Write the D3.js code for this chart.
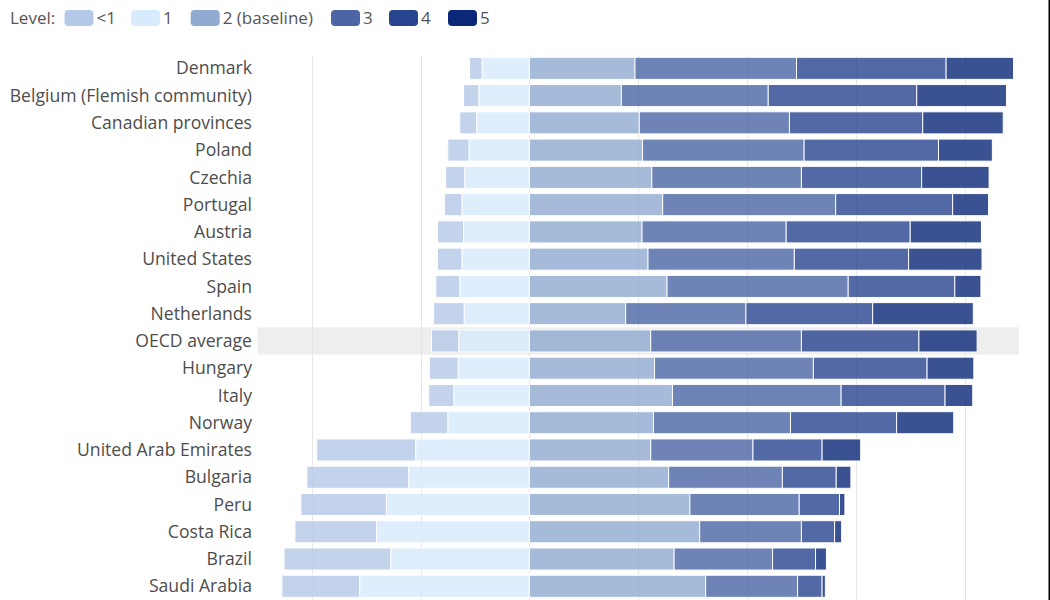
<!DOCTYPE html>
<html>
<head>
<meta charset="utf-8">
<script src="https://cdn.jsdelivr.net/npm/d3@7"></script>
<style>
  html, body { margin: 0; padding: 0; background: #fff; }
  svg { display: block; font-family: "Open Sans", "Noto Sans", sans-serif; }
</style>
</head>
<body>
<svg id="chart" width="1050" height="600"></svg>
<script>
const countries = ["Denmark", "Belgium (Flemish community)", "Canadian provinces", "Poland", "Czechia", "Portugal", "Austria", "United States", "Spain", "Netherlands", "OECD average", "Hungary", "Italy", "Norway", "United Arab Emirates", "Bulgaria", "Peru", "Costa Rica", "Brazil", "Saudi Arabia"];
const levelBelow1 = [2.3, 2.8, 3.1, 3.9, 3.5, 3.2, 4.8, 4.5, 4.4, 5.6, 5.0, 5.3, 4.6, 6.9, 18.2, 18.7, 15.7, 15.0, 19.6, 14.3];
const level1      = [8.7, 9.3, 9.7, 11.1, 11.9, 12.4, 12.1, 12.4, 12.8, 12.0, 13.0, 13.1, 13.9, 15.0, 20.9, 22.2, 26.3, 28.1, 25.5, 31.2];
const level2      = [19.4, 16.9, 20.2, 20.8, 22.5, 24.5, 20.7, 21.8, 25.3, 17.7, 22.3, 23.0, 26.3, 22.8, 22.3, 25.6, 29.5, 31.3, 26.6, 32.4];
const level3      = [29.7, 27.0, 27.6, 29.7, 27.5, 31.8, 26.5, 26.9, 33.3, 22.1, 27.7, 29.2, 31.0, 25.2, 18.8, 20.9, 20.1, 18.7, 18.1, 16.9];
const level4      = [27.5, 27.3, 24.5, 24.7, 22.1, 21.5, 22.8, 21.0, 19.6, 23.3, 21.6, 20.9, 19.1, 19.5, 12.7, 9.9, 7.4, 6.1, 7.9, 4.5];
const level5      = [12.4, 16.5, 14.8, 9.9, 12.4, 6.6, 13.1, 13.5, 4.8, 18.5, 10.7, 8.6, 5.1, 10.5, 7.1, 2.7, 1.0, 1.3, 2.0, 0.6];
const legendLabels = ["<1", "1", "2 (baseline)", "3", "4", "5"];
const gridTicks = [-40, -20, 0, 20, 40, 60, 80];
const highlighted = "OECD average";

const colors = ["#b4c9e7", "#d7ebfc", "#91aad2", "#4b65a5", "#27448f", "#0b2878"];

const svg = d3.select("#chart");

const x = d3.scaleLinear().domain([-50, 90]).range([257.4, 1019]);
const y = d3.scaleBand().domain(countries).range([54.7, 599.9]).paddingInner(0.19).paddingOuter(0.095);

// highlight band
svg.append("rect")
  .attr("x", x(-50)).attr("width", x(90) - x(-50))
  .attr("y", y(highlighted) - y.step() * 0.095).attr("height", y.step())
  .attr("fill", "#eeeeee");

// gridlines
svg.append("g").selectAll("line").data(gridTicks).join("line")
  .attr("x1", d => Math.round(x(d)) + 0.5).attr("x2", d => Math.round(x(d)) + 0.5)
  .attr("y1", 56).attr("y2", 600)
  .attr("stroke", "#e6e6e6").attr("stroke-width", 1);

// build segments
const segs = [];
countries.forEach((c, i) => {
  segs.push({c, lvl: 1, a: -level1[i], b: 0});
  segs.push({c, lvl: 0, a: -level1[i] - levelBelow1[i], b: -level1[i]});
  const right = [level2[i], level3[i], level4[i], level5[i]];
  let acc = 0;
  right.forEach((v, k) => {
    segs.push({c, lvl: k + 2, a: acc, b: acc + v});
    acc += v;
  });
});

svg.append("g").selectAll("rect").data(segs).join("rect")
  .attr("x", d => x(d.a))
  .attr("width", d => Math.max(0, x(d.b) - x(d.a)))
  .attr("y", d => y(d.c))
  .attr("height", y.bandwidth())
  .attr("fill", d => colors[d.lvl])
  .attr("stroke", "#ffffff")
  .attr("stroke-width", 1)
  .attr("opacity", 0.8);

// category labels
svg.append("g").selectAll("text").data(countries).join("text")
  .attr("x", 252)
  .attr("y", d => y(d) + y.bandwidth() / 2)
  .attr("dy", "0.35em")
  .attr("text-anchor", "end")
  .attr("font-size", 17.6)
  .attr("fill", "#4d4d4d")
  .text(d => d);

// legend
const lg = svg.append("g");
lg.append("text").attr("x", 10).attr("y", 24).attr("font-size", 17).attr("fill", "#555").text("Level:");
const legendX = [64.5, 131, 190.7, 331, 389, 448];
legendLabels.forEach((lab, i) => {
  lg.append("rect").attr("x", legendX[i]).attr("y", 10).attr("width", 29).attr("height", 16)
    .attr("rx", 4).attr("fill", colors[i]);
  lg.append("text").attr("x", legendX[i] + 32).attr("y", 24).attr("font-size", 17)
    .attr("fill", "#555").text(lab);
});

// right frame edge
svg.append("rect").attr("x", 1048.5).attr("y", 0).attr("width", 1.5).attr("height", 600).attr("fill", "#000");
</script>
</body>
</html>
